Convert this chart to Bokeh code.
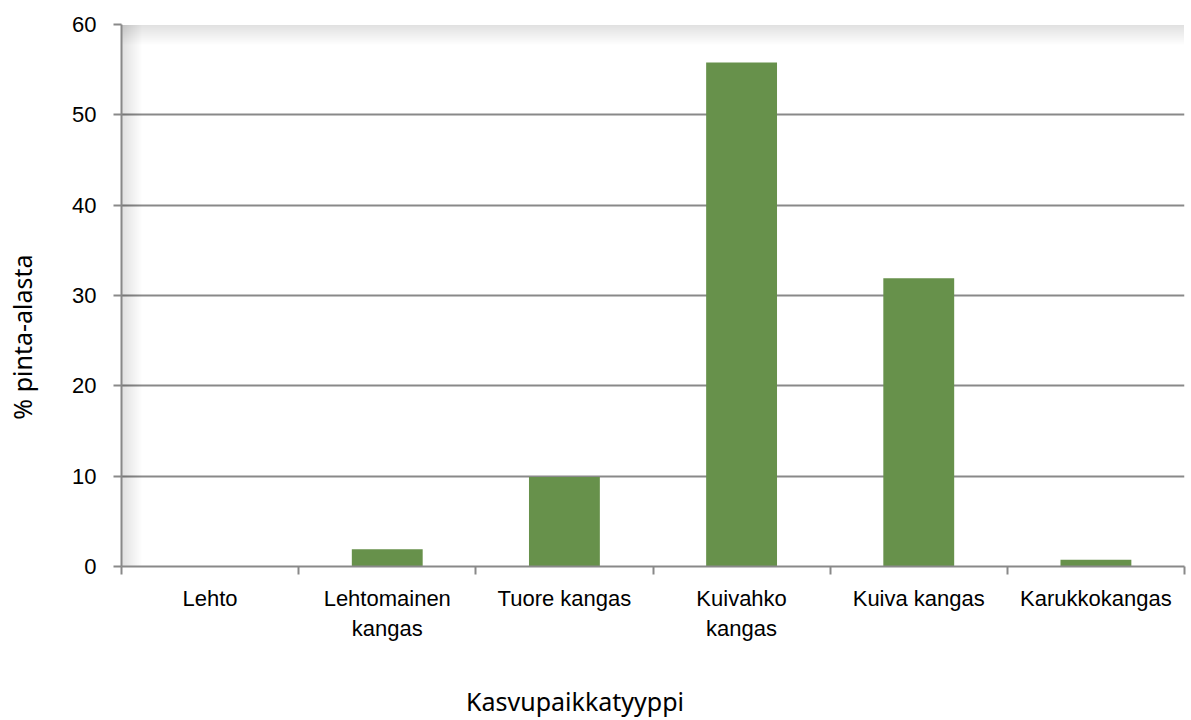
from bokeh.plotting import figure
from bokeh.models import Range1d, LinearAxis, FixedTicker, ColumnDataSource, BoxAnnotation
from bokeh.embed import file_html
from bokeh.resources import INLINE

categories = ["Lehto", "Lehtomainen\nkangas", "Tuore kangas", "Kuivahko\nkangas",
              "Kuiva kangas", "Karukkokangas"]
values = [0.0, 1.9, 9.9, 55.8, 31.9, 0.75]
y_ticks = [0, 10, 20, 30, 40, 50, 60]
x_title = "Kasvupaikkatyyppi"
y_title = "% pinta-alasta"

GRAY = "#898989"
GREEN = "#67914b"

n = len(categories)
centers = [i + 0.5 for i in range(n)]
ymax = y_ticks[-1]

# where the axis titles sit (layout, in axis units)
X_TITLE_AT = 2.56
Y_TITLE_AT = 25.4

p = figure(x_range=Range1d(0, n), y_range=Range1d(0, ymax),
           width=1191, height=720, output_backend="svg", toolbar_location=None,
           x_axis_location=None, y_axis_location="left",
           min_border_left=121, min_border_right=7, min_border_top=24,
           min_border_bottom=154)
p.outline_line_color = None
p.background_fill_color = "white"

# subtle inner shadow of the plot area (top and left)
px_x = n / 1063.0
px_y = ymax / 542.0
for k in range(1, 11):
    p.add_layout(BoxAnnotation(left=0, right=n, bottom=ymax - 2 * k * px_y, top=ymax,
                               fill_color="black", fill_alpha=0.012, line_color=None,
                               level="underlay"))
    p.add_layout(BoxAnnotation(left=0, right=2 * k * px_x, bottom=0, top=ymax,
                               fill_color="black", fill_alpha=0.012, line_color=None,
                               level="underlay"))

src = ColumnDataSource(dict(x=centers, val=values))
p.vbar(x="x", top="val", width=0.4, source=src, fill_color=GREEN, line_color=None)

# y axis
ya = p.yaxis[0]
ya.ticker = FixedTicker(ticks=y_ticks)
ya.axis_line_color = GRAY
ya.axis_line_width = 2
ya.major_tick_line_color = GRAY
ya.major_tick_line_width = 2
ya.major_tick_out = 8
ya.major_tick_in = 0
ya.minor_tick_line_color = None
ya.major_label_text_font = "Liberation Sans"
ya.major_label_text_font_size = "22px"
ya.major_label_text_color = "black"
ya.major_label_standoff = 17

p.ygrid.ticker = FixedTicker(ticks=y_ticks)
p.ygrid.grid_line_color = GRAY
p.ygrid.grid_line_width = 2
p.xgrid.grid_line_color = None


def bare(axis):
    axis.axis_line_color = None
    axis.major_tick_line_color = None
    axis.minor_tick_line_color = None
    axis.major_tick_out = 0
    axis.major_tick_in = 0
    axis.major_label_text_color = "black"


# y title as a single-label axis
yt = LinearAxis(ticker=FixedTicker(ticks=[Y_TITLE_AT]),
                major_label_overrides={Y_TITLE_AT: y_title})
bare(yt)
yt.major_label_orientation = "vertical"
yt.major_label_text_font = "Noto Sans"
yt.major_label_text_font_size = "25px"
yt.major_label_standoff = 30
p.add_layout(yt, "left")

# x boundary ticks axis (ticks only)
bounds = list(range(n + 1))
bax = LinearAxis(ticker=FixedTicker(ticks=bounds),
                 major_label_overrides={b: "" for b in bounds})
bax.axis_line_color = GRAY
bax.axis_line_width = 2
bax.major_tick_line_color = GRAY
bax.major_tick_line_width = 2
bax.major_tick_out = 8
bax.major_tick_in = 0
bax.minor_tick_line_color = None
bax.major_label_text_font_size = "1px"
bax.major_label_standoff = 0
p.add_layout(bax, "below")

# category labels axis
cax = LinearAxis(ticker=FixedTicker(ticks=centers),
                 major_label_overrides={c: lab for c, lab in zip(centers, categories)})
bare(cax)
cax.major_label_text_font = "Liberation Sans"
cax.major_label_text_font_size = "22px"
cax.major_label_standoff = 11
p.add_layout(cax, "below")

# x title as a single-label axis
xt = LinearAxis(ticker=FixedTicker(ticks=[X_TITLE_AT]),
                major_label_overrides={X_TITLE_AT: x_title})
bare(xt)
xt.major_label_text_font = "Noto Sans"
xt.major_label_text_font_size = "25px"
xt.major_label_standoff = 40
p.add_layout(xt, "below")

open("out.html", "w").write(file_html(p, INLINE))
